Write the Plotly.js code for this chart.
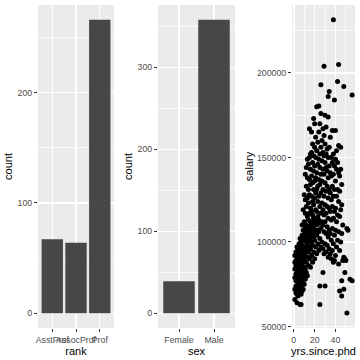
<!DOCTYPE html>
<html>
<head>
<meta charset="utf-8">
<script src="https://cdn.plot.ly/plotly-3.0.1.min.js"></script>
<style>html,body{margin:0;padding:0;background:#fff;}#chart{width:360px;height:360px;}</style>
</head>
<body>
<div id="chart"></div>
<script>
const rankCategories = ["AsstProf", "AssocProf", "Prof"];
const rankCounts = [67, 64, 266];
const sexCategories = ["Female", "Male"];
const sexCounts = [39, 358];
// [yrs.since.phd, salary in thousands]
const scatterPoints = [
[1,66],[1,72],[1,79],[1,84],[1,88],[1,92],
[2,70],[2,74],[2,77],[2,81],[2,86],[2,89],[2,94],
[3,64],[3,69],[3,73],[3,78],[3,80],[3,83],[3,88],[3,92],[3,97],
[4,68],[4,71],[4,76],[4,79],[4,85],[4,87],[4,91],[4,95],
[5,70],[5,74],[5,78],[5,81],[5,84],[5,90],[5,93],[5,99],
[6,63],[6,72],[6,75],[6,80],[6,83],[6,88],[6,92],[6,97],[6,102],
[7,63],[7,69],[7,74],[7,77],[7,82],[7,85],[7,91],[7,95],[7,100],
[8,71],[8,76],[8,79],[8,84],[8,86],[8,93],[8,98],[8,104],[8,110],
[9,72],[9,78],[9,82],[9,88],[9,91],[9,96],[9,101],[9,107],[9,119],
[10,75],[10,80],[10,85],[10,89],[10,94],[10,103],[10,107],[10,112],[10,128],
[11,78],[11,84],[11,92],[11,97],[11,101],[11,105],[11,109],[11,117],[11,125],[11,140],
[12,82],[12,88],[12,95],[12,100],[12,104],[12,106],[12,110],[12,121],[12,133],[12,144],
[13,80],[13,91],[13,99],[13,103],[13,106],[13,108],[13,115],[13,126],[13,138],[13,149],
[14,86],[14,94],[14,101],[14,104],[14,107],[14,113],[14,123],[14,131],[14,146],
[15,90],[15,97],[15,102],[15,105],[15,109],[15,117],[15,128],[15,137],[15,150],[15,167],
[16,85],[16,96],[16,103],[16,107],[16,112],[16,120],[16,134],[16,143],[16,152],
[17,92],[17,100],[17,106],[17,111],[17,118],[17,127],[17,139],[17,153],[17,165],
[18,88],[18,98],[18,104],[18,109],[18,116],[18,124],[18,135],[18,147],[18,158],
[19,94],[19,103],[19,108],[19,114],[19,122],[19,131],[19,142],[19,151],[19,173],
[20,90],[20,101],[20,107],[20,113],[20,126],[20,136],[20,145],[20,156],[20,170],
[21,97],[21,105],[21,111],[21,119],[21,129],[21,138],[21,150],[21,162],
[22,93],[22,104],[22,110],[22,118],[22,131],[22,141],[22,154],[22,180],
[23,99],[23,107],[23,115],[23,124],[23,133],[23,146],[23,159],
[24,95],[24,106],[24,113],[24,127],[24,137],[24,149],[24,165],[24,180.5],
[25,63],[25,74],[25,102],[25,111],[25,121],[25,134],[25,144],[25,152],[25,170],
[26,97],[26,108],[26,117],[26,129],[26,140],[26,156],[26,176],[26,193],
[27,100],[27,112],[27,123],[27,136],[27,148],[27,160],
[28,82],[28,96],[28,110],[28,119],[28,131],[28,143],[28,153],[28,167],
[29,93],[29,106],[29,116],[29,127],[29,140],[29,151],[29,163],[29,204],
[30,74],[30,99],[30,112],[30,122],[30,135],[30,147],[30,158],[30,175],
[31,94],[31,105],[31,117],[31,130],[31,144],[31,152],[31,168],
[32,98],[32,109],[32,121],[32,133],[32,142],[32,155],
[33,91],[33,103],[33,114],[33,126],[33,138],[33,150],[33,174],[33,186],
[34,96],[34,107],[34,120],[34,131],[34,145],[34,156],[34,189],
[35,93],[35,105],[35,118],[35,129],[35,141],[35,162],
[36,90],[36,101],[36,113],[36,125],[36,139],[36,150],
[37,95],[37,108],[37,121],[37,133],[37,147],[37,166],
[38,88],[38,99],[38,114],[38,127],[38,140],[38,152],[38,231.5],
[39,89],[39,104],[39,118],[39,131],[39,145],[39,184],
[40,92],[40,107],[40,120],[40,136],[40,149],[40,166],
[41,97],[41,112],[41,127],[41,143],[41,154],
[42,101],[42,116],[42,131],[42,147],[42,195],
[43,87],[43,106],[43,124],[43,141],[43,157],[43,205],
[44,71],[44,95],[44,115],[44,130],[44,139],
[45,100],[45,119],[45,143],[45,156],
[46,68],[46,77],[46,105],[46,122],[46,134],
[47,89],[47,110],
[48,72],[48,91],[48,192],
[49,82],[49,90],
[50,89],
[51,58],[51,108],
[52,107],
[54,78],
[56,77],[56,187]
];

const yrs = scatterPoints.map(p => p[0]);
const salary = scatterPoints.map(p => p[1] * 1000);

const BAR = '#474747';
const PANEL = '#EBEBEB';
const FONT = 'Liberation Sans, Arial, Helvetica, sans-serif';
const tickFont = {family: FONT, size: 8.8, color: '#4D4D4D'};
const titleFont = {family: FONT, size: 11, color: '#000000'};
const yDom = [0.0889, 0.9861];

function baseAxis(extra) {
  return Object.assign({
    showgrid: true, gridcolor: '#FFFFFF', gridwidth: 1.4,
    zeroline: false, showline: false,
    ticks: 'outside', ticklen: 3, tickwidth: 1, tickcolor: '#333333',
    tickfont: tickFont, automargin: false, fixedrange: true
  }, extra);
}

const data = [
  {type: 'bar', x: rankCategories, y: rankCounts, xaxis: 'x', yaxis: 'y',
   marker: {color: BAR}, width: 0.9, hoverinfo: 'skip'},
  {type: 'bar', x: sexCategories, y: sexCounts, xaxis: 'x2', yaxis: 'y2',
   marker: {color: BAR}, width: 0.9, hoverinfo: 'skip'},
  {type: 'scatter', mode: 'markers', x: yrs, y: salary, xaxis: 'x3', yaxis: 'y3',
   marker: {color: '#000000', size: 5}, hoverinfo: 'skip'}
];

const layout = {
  width: 360, height: 360,
  margin: {l: 0, r: 0, t: 0, b: 0},
  paper_bgcolor: '#FFFFFF',
  plot_bgcolor: PANEL,
  showlegend: false,
  xaxis: baseAxis({domain: [0.1056, 0.3167], anchor: 'y', type: 'category',
    range: [-0.6, 2.6], tickangle: 0,
    title: {text: 'rank', font: titleFont, standoff: 1}}),
  yaxis: baseAxis({domain: yDom, anchor: 'x', range: [-13.3, 279.3], dtick: 100, tick0: 0,
    minor: {dtick: 50, showgrid: true, gridcolor: '#FFFFFF', gridwidth: 0.7, ticks: ''},
    title: {text: 'count', font: titleFont, standoff: 2}}),
  xaxis2: baseAxis({domain: [0.4389, 0.6528], anchor: 'y2', type: 'category',
    range: [-0.6, 1.6], tickangle: 0,
    title: {text: 'sex', font: titleFont, standoff: 1}}),
  yaxis2: baseAxis({domain: yDom, anchor: 'x2', range: [-17.9, 375.9], dtick: 100, tick0: 0,
    minor: {dtick: 50, showgrid: true, gridcolor: '#FFFFFF', gridwidth: 0.7, ticks: ''},
    title: {text: 'count', font: titleFont, standoff: 2}}),
  xaxis3: baseAxis({domain: [0.8111, 0.9861], anchor: 'y3',
    range: [-1.75, 58.75], dtick: 20, tick0: 0,
    minor: {dtick: 10, showgrid: true, gridcolor: '#FFFFFF', gridwidth: 0.7, ticks: ''},
    title: {text: 'yrs.since.phd', font: titleFont, standoff: 1}}),
  yaxis3: baseAxis({domain: yDom, anchor: 'x3', range: [49100, 240200], dtick: 50000, tick0: 0,
    tickformat: 'd',
    minor: {dtick: 25000, showgrid: true, gridcolor: '#FFFFFF', gridwidth: 0.7, ticks: ''},
    title: {text: 'salary', font: titleFont, standoff: 1}})
};

Plotly.newPlot('chart', data, layout, {staticPlot: true, displayModeBar: false});
</script>
</body>
</html>
